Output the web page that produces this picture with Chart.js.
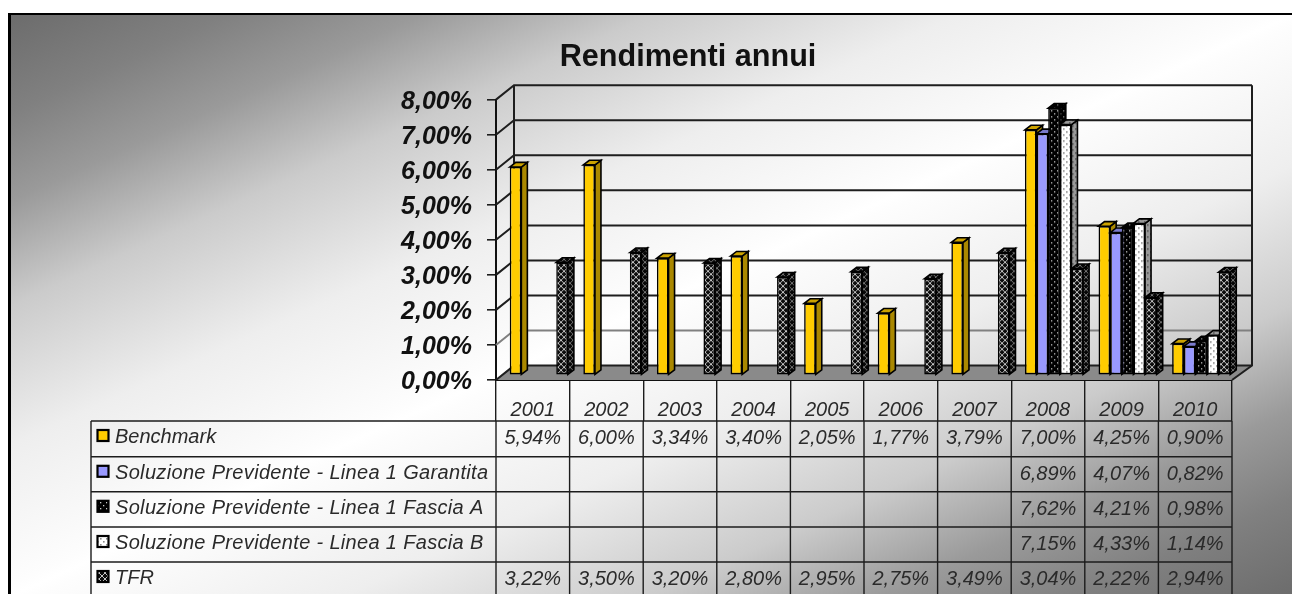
<!DOCTYPE html>
<html><head><meta charset="utf-8">
<script src="https://cdn.jsdelivr.net/npm/chart.js@4"></script>
<style>
html,body{margin:0;padding:0;background:#fff;overflow:hidden;width:1292px;height:594px}
#frame{position:absolute;left:8px;top:13px;width:1284px;height:583px;box-sizing:border-box;border-left:3px solid #000;border-top:2px solid #000;
background:linear-gradient(to bottom right,#6c6c6c 0%,#808080 8.4%,#9a9a9a 16%,#cbcbcb 25%,#eeeeee 37%,#fdfdfd 49%,#ffffff 50%,#fdfdfd 51%,#eeeeee 63%,#cbcbcb 75%,#9a9a9a 84%,#808080 91.6%,#6c6c6c 100%)}
canvas{position:absolute;left:0;top:0}
</style></head><body>
<div id="frame"></div>
<canvas id="c" width="1292" height="594" role="img" aria-label="Rendimenti annui"></canvas>
<script>
const chartTitle = 'Rendimenti annui';
const years = ['2001','2002','2003','2004','2005','2006','2007','2008','2009','2010'];
const yTickLabels = ['0,00%','1,00%','2,00%','3,00%','4,00%','5,00%','6,00%','7,00%','8,00%'];
const seriesNames = ['Benchmark','Soluzione Previdente - Linea 1 Garantita','Soluzione Previdente - Linea 1 Fascia A','Soluzione Previdente - Linea 1 Fascia B','TFR'];
const benchmark = [5.94,6.00,3.34,3.40,2.05,1.77,3.79,7.00,4.25,0.90];
const garantita = [null,null,null,null,null,null,null,6.89,4.07,0.82];
const fasciaA   = [null,null,null,null,null,null,null,7.62,4.21,0.98];
const fasciaB   = [null,null,null,null,null,null,null,7.15,4.33,1.14];
const tfr       = [3.22,3.50,3.20,2.80,2.95,2.75,3.49,3.04,2.22,2.94];

const FONT = '"Liberation Sans", Arial, sans-serif';
const INK = '#2a2a2a';

function tile(w,h,paint){
  const t=document.createElement('canvas');t.width=w;t.height=h;
  paint(t.getContext('2d'));
  return t.getContext('2d').createPattern(t,'repeat');
}
function dots(bg,fg,dim){
  return tile(6,6,g=>{g.fillStyle=bg;g.fillRect(0,0,6,6);g.fillStyle=fg;
    g.fillRect(1,1,dim,dim);g.fillRect(4,4,dim,dim);});
}
const patA = dots('#000000','#c8c8c8',1.3);
const patB = dots('#ffffff','#8a8a8a',1.6);
const patT = tile(6,6,g=>{g.fillStyle='#0c0c0c';g.fillRect(0,0,6,6);
  g.strokeStyle='#c4c4c4';g.lineWidth=1;g.beginPath();
  g.moveTo(0,0);g.lineTo(6,6);g.moveTo(6,0);g.lineTo(0,6);g.stroke();});
const fills = ['#FFCC00','#9999FF',patA,patB,patT];
const sideFills = ['#AA8800','#6666AA',patA,patB,patT];
const topFills  = ['#CCA300','#7A7ACC',patA,patB,patT];
const shade = [0,0,.3,.4,.4];

const WALL = {dx:18, dxRight:20, dy:-14.4};
const BAR_PLANE = {dx:6, dy:-4.8};
const BAR_DEPTH = {dx:6, dy:-4.6};

const scene3d = {
  id:'scene3d',
  beforeDatasetsDraw(chart){
    const {ctx,scales:{x,y}} = chart;
    const L=x.left,R=x.right,B=y.getPixelForValue(0);
    ctx.save();
    // floor
    ctx.fillStyle='#8a8a8a';
    ctx.beginPath();ctx.moveTo(L,B);ctx.lineTo(R,B);ctx.lineTo(R+WALL.dxRight,B+WALL.dy);ctx.lineTo(L+WALL.dx,B+WALL.dy);ctx.closePath();ctx.fill();
    // grid on the back and left walls
    ctx.lineWidth=2;
    y.ticks.forEach(t=>{
      const p=y.getPixelForValue(t.value);
      ctx.strokeStyle = t.value===1 ? '#808080' : '#1e1e1e';
      ctx.beginPath();ctx.moveTo(L,p);ctx.lineTo(L+WALL.dx,p+WALL.dy);ctx.lineTo(R+WALL.dxRight,p+WALL.dy);ctx.stroke();
    });
    const T=y.getPixelForValue(8);
    ctx.strokeStyle='#1e1e1e';
    ctx.beginPath();
    ctx.moveTo(L+WALL.dx,T+WALL.dy);ctx.lineTo(L+WALL.dx,B+WALL.dy);
    ctx.moveTo(R+WALL.dxRight,T+WALL.dy);ctx.lineTo(R+WALL.dxRight,B+WALL.dy);ctx.lineTo(R,B);
    ctx.stroke();
    // bars, left to right, each with its side and top
    ctx.translate(BAR_PLANE.dx,BAR_PLANE.dy);
    const metas=chart.getSortedVisibleDatasetMetas();
    metas.forEach(meta=>{
      const i=meta.index;
      meta.data.forEach((bar,k)=>{
        if(chart.data.datasets[i].data[k]==null) return;
        const {x:cx,y:top,base,width}=bar.getProps(['x','y','base','width'],true);
        const r=cx+width/2,l=cx-width/2,d=BAR_DEPTH;
        const face=(pts,fill,extra)=>{
          ctx.beginPath();pts.forEach((p,n)=>n?ctx.lineTo(p[0],p[1]):ctx.moveTo(p[0],p[1]));ctx.closePath();
          ctx.fillStyle=fill;ctx.fill();
          if(extra){ctx.fillStyle='rgba(0,0,0,'+extra+')';ctx.fill();}
          ctx.lineWidth=1.6;ctx.strokeStyle='#000';ctx.stroke();
        };
        face([[r,top],[r+d.dx,top+d.dy],[r+d.dx,base+d.dy],[r,base]],sideFills[i],shade[i]);
        face([[l,top],[l+d.dx,top+d.dy],[r+d.dx,top+d.dy],[r,top]],topFills[i],shade[i]);
      });
      meta.controller.draw();
    });
    ctx.restore();
    return false;
  },
  afterDraw(chart){
    const {ctx,scales:{x}} = chart;
    const rowY=[421,456.8,491.8,527,562,597];
    const tableL=91,tableR=x.right,nameR=x.left;
    const half=(x.getPixelForTick(1)-x.getPixelForTick(0))/2;
    ctx.save();
    ctx.strokeStyle='#1c1c1c';ctx.lineWidth=1.4;
    ctx.beginPath();
    rowY.forEach(v=>{ctx.moveTo(tableL,v);ctx.lineTo(tableR,v);});
    ctx.moveTo(tableL,rowY[0]);ctx.lineTo(tableL,rowY[5]);
    ctx.moveTo(nameR,rowY[0]);ctx.lineTo(nameR,rowY[5]);
    years.forEach((_,k)=>{const p=x.getPixelForTick(k)+half;ctx.moveTo(p,rowY[0]);ctx.lineTo(p,rowY[5]);});
    ctx.stroke();
    ctx.font='italic 20px '+FONT;ctx.textBaseline='middle';
    chart.data.datasets.forEach((ds,i)=>{
      const mid=rowY[i]+16.5;
      ctx.fillStyle=fills[i];ctx.fillRect(97.5,mid-7.5,11,11);
      ctx.strokeStyle='#000';ctx.lineWidth=2.2;ctx.strokeRect(97.5,mid-7.5,11,11);
      ctx.fillStyle=INK;ctx.textAlign='left';
      ctx.letterSpacing=i>0&&i<4?'0.33px':'0px';
      ctx.fillText(ds.label,115,mid);
      ctx.letterSpacing='0px';
      ctx.textAlign='center';
      ds.data.forEach((v,k)=>{
        if(v==null) return;
        ctx.fillText(v.toFixed(2).replace('.',',')+'%',x.getPixelForTick(k),mid+1);
      });
    });
    ctx.restore();
  }
};

const seriesValues=[benchmark,garantita,fasciaA,fasciaB,tfr];
new Chart(document.getElementById('c'),{
  type:'bar',
  data:{labels:years,datasets:seriesNames.map((n,i)=>({
    label:n,data:seriesValues[i],backgroundColor:fills[i],borderColor:'#000',borderWidth:1.6,borderSkipped:false,
    categoryPercentage:0.79,barPercentage:1
  }))},
  plugins:[scene3d],
  options:{
    responsive:false,animation:false,devicePixelRatio:1,
    layout:{padding:{left:144,right:60,top:0,bottom:0}},
    plugins:{
      legend:{display:false},tooltip:{enabled:false},
      title:{display:true,text:chartTitle,color:'#111',font:{family:FONT,size:30.6,weight:'bold'},padding:{top:39,bottom:23.9}}
    },
    scales:{
      x:{
        afterFit(s){s.height=214;},
        border:{display:true,color:'#111',width:2},
        grid:{display:true,drawOnChartArea:false,drawTicks:true,tickLength:41,color:'#1c1c1c',lineWidth:1.4,offset:true},
        ticks:{color:INK,font:{family:FONT,size:20,style:'italic'},padding:-23,maxRotation:0,minRotation:0,autoSkip:false}
      },
      y:{
        min:0,max:8,
        afterFit(s){s.width=352;},
        border:{display:true,color:'#111',width:2},
        grid:{display:true,drawOnChartArea:false,drawTicks:true,tickLength:9,color:'#1c1c1c',lineWidth:1.6},
        ticks:{stepSize:1,color:'#111',padding:15,labelOffset:2.5,font:{family:FONT,size:25,style:'italic',weight:'bold'},
          callback:(v)=>yTickLabels[v]}
      }
    }
  }
});
</script>
</body></html>
